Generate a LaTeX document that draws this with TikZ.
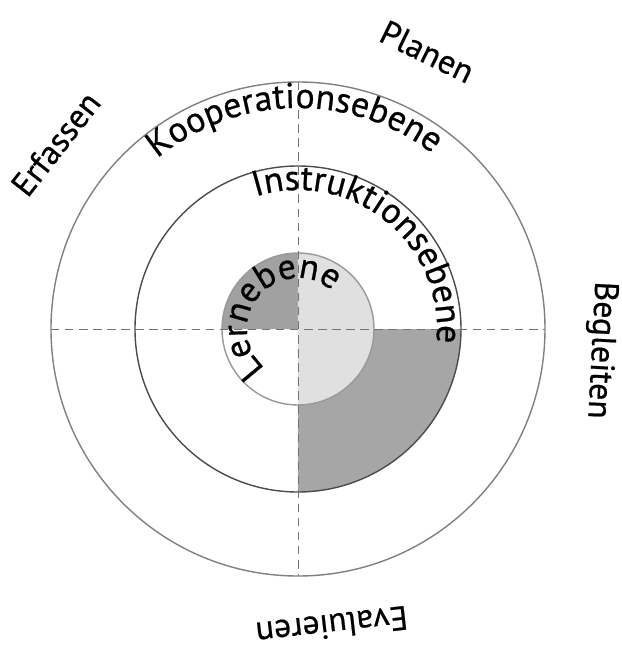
\documentclass[tikz,border=0pt]{standalone}
\usepackage{fontspec}
\setmainfont{PT Sans}[FakeBold=0.6]
\usetikzlibrary{decorations.text}
\begin{document}
\begin{tikzpicture}[x=0.025cm,y=0.025cm,
  ring/.style={draw=black!60, line width=1pt},
  axis/.style={draw=black!55, line width=0.7pt, dash pattern=on 6pt off 4pt},
  phase/.style={font=\fontsize{24}{28}\selectfont, inner sep=0pt},
  level/.style={decorate, decoration={text along path, text align=center, text={|\fontsize{25.5}{28}\selectfont|#1}}}]
\useasboundingbox (-298,-318) rectangle (324,329);
\fill[black!37] (0,0) -- (0,76) arc[start angle=90, end angle=180, radius=76] -- cycle;
\fill[black!12] (0,0) -- (0,-76) arc[start angle=-90, end angle=90, radius=76] -- cycle;
\fill[black!35] (76,0) -- (163,0) arc[start angle=0, end angle=-90, radius=163] -- (0,-76) arc[start angle=-90, end angle=0, radius=76] -- cycle;
\draw[ring, draw=black!50] (0,0) circle[radius=247];
\draw[ring, draw=black!70] (0,0) circle[radius=163];
\draw[ring, draw=black!40] (0,0) circle[radius=76];
\coordinate (west) at (180:247);
\coordinate (east) at (0:247);
\coordinate (north) at (90:247);
\coordinate (south) at (-90:247);
\draw[axis] (west) -- (east);
\draw[axis] (north) -- (south);
\path[level=Kooperationsebene] (171:221) arc[start angle=171, end angle=11, radius=221];
\path[level=Instruktionsebene] (141:139) arc[start angle=141, end angle=-39, radius=139];
\path[level=Lernebene] (308:51) arc[start angle=308, end angle=-30, radius=51];
\node[phase, rotate=-26] (planen) at (65:306) {Planen};
\node[phase, rotate=52] (erfassen) at (142.6:305) {Erfassen};
\node[phase, rotate=-93] (begleiten) at (-4:303) {Begleiten};
\node[phase, rotate=186.5] (evaluieren) at (-83.5:299) {Evaluieren};
\end{tikzpicture}
\end{document}
